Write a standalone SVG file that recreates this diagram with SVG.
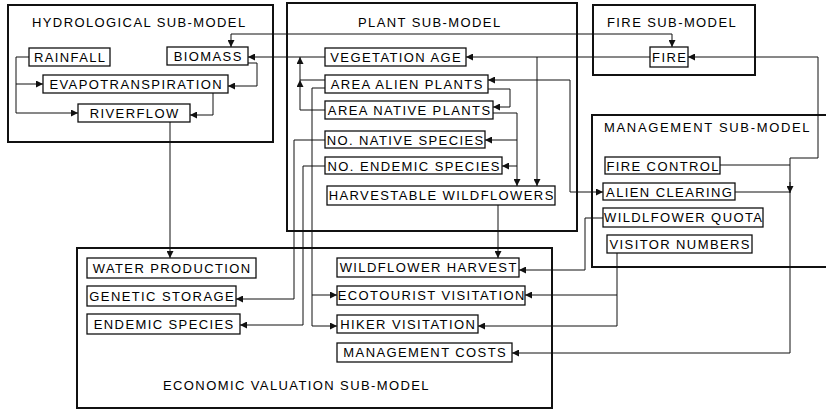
<svg xmlns="http://www.w3.org/2000/svg" width="826" height="410" viewBox="0 0 826 410">
<style>
.sm{fill:none;stroke:#111;stroke-width:2}
.nd rect{fill:#fff;stroke:#111;stroke-width:1.3}
.c path{fill:none;stroke:#111;stroke-width:1}
.a{marker-end:url(#ah)}
.b{marker-start:url(#ah);marker-end:url(#ah)}
text{font-family:"Liberation Sans",Arial,sans-serif;font-size:13px;letter-spacing:1.4px;fill:#000}
.nd text{text-anchor:middle}
</style>
<defs>
<marker id="ah" markerUnits="userSpaceOnUse" markerWidth="7" markerHeight="7" refX="7" refY="3.5" orient="auto-start-reverse">
<path d="M0,0 L7,3.5 L0,7 z" fill="#111"/>
</marker>
</defs>
<rect width="826" height="410" fill="#fff"/>
<g id="hydrological-sub-model">
<rect class="sm" x="8" y="5" width="265" height="137"/>
<text x="32" y="27">HYDROLOGICAL SUB-MODEL</text>
</g>
<g id="plant-sub-model">
<rect class="sm" x="287" y="3" width="290" height="228"/>
<text x="358" y="27">PLANT SUB-MODEL</text>
</g>
<g id="fire-sub-model">
<rect class="sm" x="593" y="5" width="162" height="70"/>
<text x="607" y="27">FIRE SUB-MODEL</text>
</g>
<g id="management-sub-model">
<path class="sm" d="M827,115 H592 V267 H827"/>
<text x="604" y="132" textLength="207" lengthAdjust="spacing">MANAGEMENT SUB-MODEL</text>
</g>
<g id="economic-valuation-sub-model">
<rect class="sm" x="77" y="248" width="475" height="160"/>
<text x="163" y="390">ECONOMIC VALUATION SUB-MODEL</text>
</g>
<g id="connectors" class="c">
<path class="a" d="M29,57 H16 V113 H78"/>
<path class="a" d="M16,84 H43"/>
<path class="a" d="M248,63 H257 V86 H228"/>
<path class="a" d="M213,93 V115 H190"/>
<path class="a" d="M170,122 V258"/>
<path class="b" d="M231,47 V34 H672 V47"/>
<path class="a" d="M325,57 H248"/>
<path d="M325,80 H300"/>
<path class="a" d="M325,110 H300 V80"/>
<path class="a" d="M300,80 V57"/>
<path class="a" d="M325,88 H312 V326 H337"/>
<path class="a" d="M312,295 H337"/>
<path class="a" d="M325,140 H294 V299 H236"/>
<path class="a" d="M325,166 H303 V325 H240"/>
<path class="a" d="M650,57 H466"/>
<path class="a" d="M537,57 V186"/>
<path class="b" d="M488,80 H570 V192 H603"/>
<path class="a" d="M488,89 H510 V107 H493"/>
<path class="a" d="M493,113 H517 V186"/>
<path class="a" d="M517,140 H485"/>
<path class="a" d="M517,166 H502"/>
<path class="a" d="M498,205 V258"/>
<path class="a" d="M603,218 H585 V270 H519"/>
<path class="a" d="M617,253 V326 H478"/>
<path class="a" d="M617,295 H525"/>
<path class="a" d="M720,165 H790 V353 H512"/>
<path class="a" d="M790,165 V158 H818 V57 H688"/>
<path d="M735,192 H790"/>
<path class="a" d="M790,182 V193"/>
</g>
<g id="rainfall" class="nd"><rect x="29" y="48" width="81" height="18"/><text x="70.2" y="62">RAINFALL</text></g>
<g id="biomass" class="nd"><rect x="167" y="47" width="81" height="18"/><text x="208.2" y="61">BIOMASS</text></g>
<g id="evapotranspiration" class="nd"><rect x="43" y="75" width="185" height="18"/><text x="136.2" y="89">EVAPOTRANSPIRATION</text></g>
<g id="riverflow" class="nd"><rect x="78" y="104" width="112" height="18"/><text x="134.7" y="118">RIVERFLOW</text></g>
<g id="vegetation-age" class="nd"><rect x="325" y="48" width="141" height="18"/><text x="396.2" y="62">VEGETATION AGE</text></g>
<g id="area-alien-plants" class="nd"><rect x="325" y="75" width="163" height="18"/><text x="407.2" y="89">AREA ALIEN PLANTS</text></g>
<g id="area-native-plants" class="nd"><rect x="325" y="101" width="168" height="18"/><text x="409.7" y="115">AREA NATIVE PLANTS</text></g>
<g id="no-native-species" class="nd"><rect x="325" y="131" width="160" height="17"/><text x="405.7" y="144.5">NO. NATIVE SPECIES</text></g>
<g id="no-endemic-species" class="nd"><rect x="325" y="157" width="177" height="17"/><text x="414.2" y="170.5">NO. ENDEMIC SPECIES</text></g>
<g id="harvestable-wildflowers" class="nd"><rect x="327" y="186" width="228" height="19"/><text x="441.7" y="200">HARVESTABLE WILDFLOWERS</text></g>
<g id="fire" class="nd"><rect x="650" y="47" width="38" height="20"/><text x="669.7" y="62">FIRE</text></g>
<g id="fire-control" class="nd"><rect x="605" y="157" width="115" height="17"/><text x="663.2" y="170.5">FIRE CONTROL</text></g>
<g id="alien-clearing" class="nd"><rect x="603" y="183" width="132" height="17"/><text x="669.7" y="196.5">ALIEN CLEARING</text></g>
<g id="wildflower-quota" class="nd"><rect x="603" y="208" width="160" height="19"/><text x="683.7" y="222">WILDLFOWER QUOTA</text></g>
<g id="visitor-numbers" class="nd"><rect x="607" y="235" width="145" height="18"/><text x="680.2" y="249">VISITOR NUMBERS</text></g>
<g id="water-production" class="nd"><rect x="87" y="258" width="169" height="20"/><text x="172.2" y="273">WATER PRODUCTION</text></g>
<g id="genetic-storage" class="nd"><rect x="87" y="286" width="149" height="20"/><text x="162.2" y="301">GENETIC STORAGE</text></g>
<g id="endemic-species" class="nd"><rect x="87" y="314" width="153" height="20"/><text x="164.2" y="329">ENDEMIC SPECIES</text></g>
<g id="wildflower-harvest" class="nd"><rect x="337" y="258" width="182" height="19"/><text x="428.7" y="272">WILDFLOWER HARVEST</text></g>
<g id="ecotourist-visitation" class="nd"><rect x="337" y="286" width="188" height="19"/><text x="431.7" y="300">ECOTOURIST VISITATION</text></g>
<g id="hiker-visitation" class="nd"><rect x="337" y="315" width="141" height="18"/><text x="408.2" y="329">HIKER VISITATION</text></g>
<g id="management-costs" class="nd"><rect x="337" y="343" width="175" height="19"/><text x="425.2" y="357">MANAGEMENT COSTS</text></g>
</svg>
